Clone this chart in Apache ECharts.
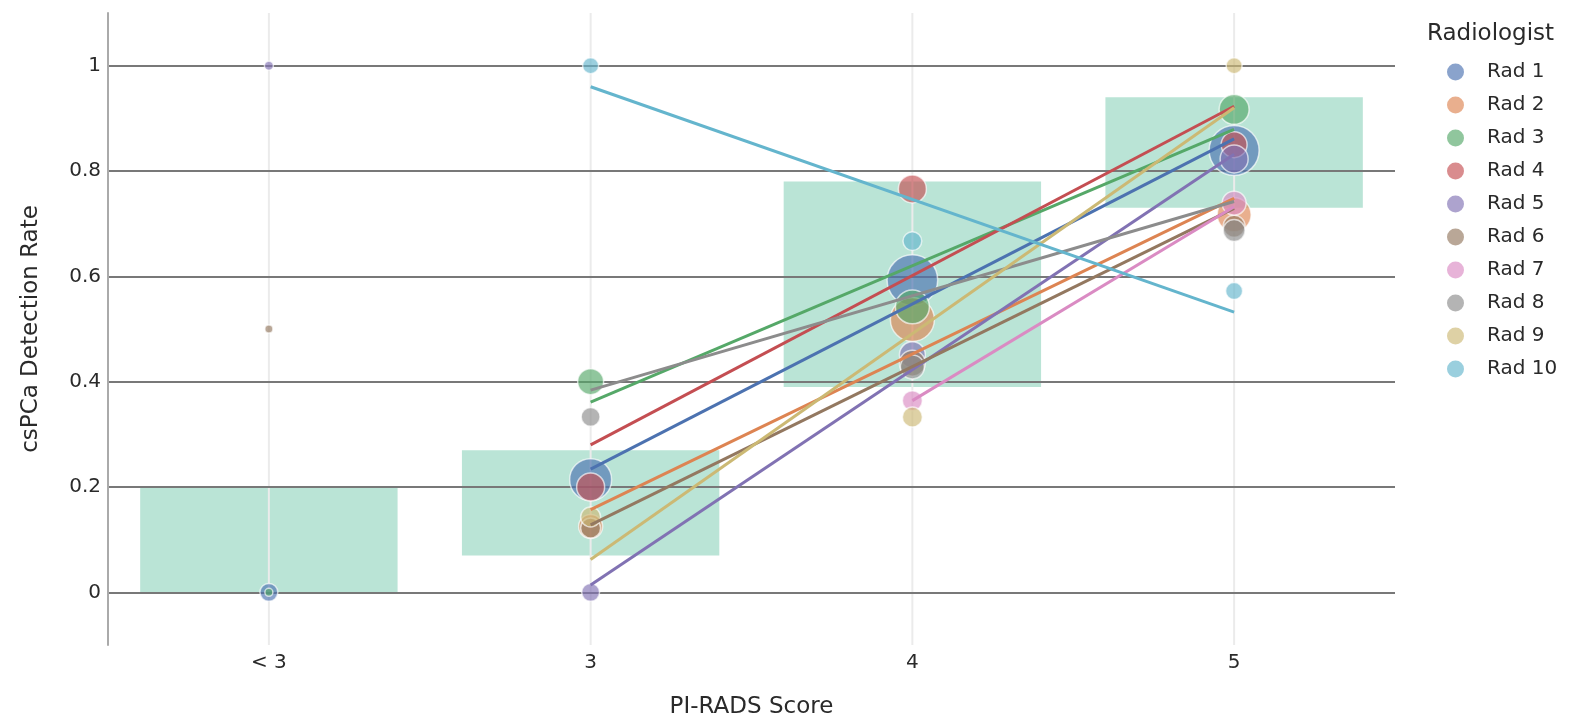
<!DOCTYPE html>
<html>
<head>
<meta charset="utf-8">
<script src="https://cdn.jsdelivr.net/npm/echarts@6/dist/echarts.min.js"></script>
<style>
html,body{margin:0;padding:0;background:#fff;}
#chart{width:1578px;height:724px;}
</style>
</head>
<body>
<div id="chart"></div>
<script>
// ---- Data ----
const categories = ['< 3', '3', '4', '5'];
const radNames = ['Rad 1','Rad 2','Rad 3','Rad 4','Rad 5','Rad 6','Rad 7','Rad 8','Rad 9','Rad 10'];
const radColors = ['#4C72B0','#DD8452','#55A868','#C44E52','#8172B3','#937860','#DA8BC3','#8C8C8C','#CCB974','#64B5CD'];

// reference ranges per category: [categoryIndex, low, high]
const rangeBoxes = [[0, 0, 0.2], [1, 0.07, 0.27], [2, 0.39, 0.78], [3, 0.73, 0.94]];

// detection rate points: [categoryIndex, rate, cases]
const rad1Points = [[0, 0, 20], [1, 0.214, 110], [2, 0.593, 160], [3, 0.839, 156]];
const rad2Points = [[1, 0.125, 36], [2, 0.518, 121], [3, 0.717, 72]];
const rad3Points = [[0, 0, 4], [1, 0.40, 42], [2, 0.542, 72], [3, 0.917, 56]];
const rad4Points = [[1, 0.20, 49], [2, 0.766, 49], [3, 0.85, 42]];
const rad5Points = [[0, 1.0, 5], [1, 0, 20], [2, 0.451, 42], [3, 0.823, 49]];
const rad6Points = [[0, 0.5, 4], [1, 0.122, 25], [2, 0.435, 42], [3, 0.695, 30]];
const rad7Points = [[2, 0.364, 25], [3, 0.739, 36]];
const rad8Points = [[1, 0.333, 22], [2, 0.428, 36], [3, 0.687, 30]];
const rad9Points = [[1, 0.143, 25], [2, 0.333, 25], [3, 1.0, 16]];
const rad10Points = [[1, 1.0, 16], [2, 0.667, 22], [3, 0.572, 18]];

// fitted trend lines: [categoryIndex, rate] endpoints
const rad1Fit = [[1, 0.234], [3, 0.861]];
const rad2Fit = [[1, 0.157], [3, 0.748]];
const rad3Fit = [[1, 0.361], [3, 0.879]];
const rad4Fit = [[1, 0.28], [3, 0.923]];
const rad5Fit = [[1, 0.014], [3, 0.832]];
const rad6Fit = [[1, 0.128], [3, 0.729]];
const rad7Fit = [[2, 0.364], [3, 0.732]];
const rad8Fit = [[1, 0.384], [3, 0.742]];
const rad9Fit = [[1, 0.0625], [3, 0.92]];
const rad10Fit = [[1, 0.96], [3, 0.532]];

const yTickValues = [0, 0.2, 0.4, 0.6, 0.8, 1];

const allPoints = [rad1Points, rad2Points, rad3Points, rad4Points, rad5Points, rad6Points, rad7Points, rad8Points, rad9Points, rad10Points];
const allFits = [rad1Fit, rad2Fit, rad3Fit, rad4Fit, rad5Fit, rad6Fit, rad7Fit, rad8Fit, rad9Fit, rad10Fit];

// ---- Chart ----
const FONT = 'DejaVu Sans';
const TXT = '#2a2a2a';
const chart = echarts.init(document.getElementById('chart'), null, {renderer: 'canvas'});

const series = [];
series.push({
  type: 'custom',
  name: 'ranges',
  z: -1,
  silent: true,
  encode: {x: 0, y: [1, 2]},
  data: rangeBoxes,
  renderItem: function (params, api) {
    const c = api.value(0), lo = api.value(1), hi = api.value(2);
    const pTop = api.coord([c, hi]);
    const pBot = api.coord([c, lo]);
    const w = api.size([1, 0])[0] * 0.8;
    const cs = params.coordSys;
    return {
      type: 'group',
      children: [
        {type: 'rect', shape: {x: pTop[0] - w / 2, y: pTop[1], width: w, height: pBot[1] - pTop[1]}, style: {fill: 'rgb(186,228,214)'}},
        {type: 'line', shape: {x1: pTop[0], y1: cs.y, x2: pTop[0], y2: cs.y + cs.height}, style: {stroke: '#ebebeb', lineWidth: 2}}
      ]
    };
  }
});

radNames.forEach(function (name, i) {
  series.push({
    type: 'scatter',
    name: name,
    data: allPoints[i],
    symbol: 'circle',
    symbolSize: function (v) { return 4 * Math.sqrt(v[2]); },
    itemStyle: {color: radColors[i], opacity: 0.65, borderColor: '#ffffff', borderWidth: 1.5},
    emphasis: {disabled: true},
    z: 2
  });
});
radNames.forEach(function (name, i) {
  series.push({
    type: 'line',
    name: name + ' trend',
    data: allFits[i],
    symbol: 'none',
    lineStyle: {color: radColors[i], width: 3},
    itemStyle: {color: radColors[i]},
    emphasis: {disabled: true},
    silent: true,
    z: 3
  });
});

const option = {
  animation: false,
  backgroundColor: '#ffffff',
  textStyle: {fontFamily: FONT},
  title: {
    text: 'Radiologist',
    left: 1427, top: 23, padding: 0,
    textStyle: {fontFamily: FONT, fontSize: 23, fontWeight: 'normal', color: TXT}
  },
  legend: {
    data: radNames,
    orient: 'vertical',
    left: 1447, top: 62,
    icon: 'circle',
    itemWidth: 17, itemHeight: 17, itemGap: 13,
    padding: 0,
    itemStyle: {opacity: 0.65, borderWidth: 0},
    textStyle: {fontFamily: FONT, fontSize: 20, color: TXT, padding: [0, 0, 0, 18], lineHeight: 17}
  },
  grid: {left: 108, right: 183, top: 13, bottom: 74, containLabel: false},
  xAxis: {
    type: 'category',
    data: categories,
    boundaryGap: true,
    axisLine: {show: false, onZero: false},
    axisTick: {show: false},
    splitLine: {show: false},
    axisLabel: {fontFamily: FONT, fontSize: 20, color: TXT, margin: 8},
    name: 'PI-RADS Score',
    nameLocation: 'middle',
    nameGap: 51,
    nameTextStyle: {fontFamily: FONT, fontSize: 23, color: TXT}
  },
  yAxis: {
    type: 'value',
    min: -0.1, max: 1.1, interval: 0.1,
    axisLine: {show: true, lineStyle: {color: '#aaaaaa', width: 2}},
    axisTick: {show: false},
    axisLabel: {
      fontFamily: FONT, fontSize: 20, color: TXT, margin: 7,
      formatter: function (v) {
        const k = Math.round(v * 10) / 10;
        return yTickValues.indexOf(k) >= 0 ? String(k) : '';
      }
    },
    splitLine: {show: true, lineStyle: {color: ['rgba(0,0,0,0)', '#787878'], width: 2.2}},
    name: 'csPCa Detection Rate',
    nameLocation: 'middle',
    nameGap: 65,
    nameTextStyle: {fontFamily: FONT, fontSize: 23, color: TXT}
  },
  series: series
};
chart.setOption(option);
</script>
</body>
</html>
